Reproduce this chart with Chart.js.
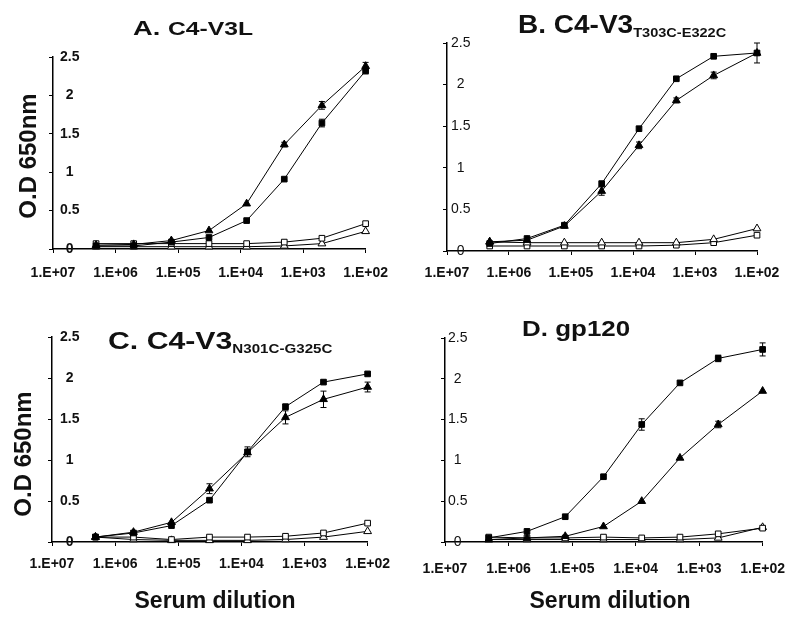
<!DOCTYPE html>
<html>
<head>
<meta charset="utf-8">
<script src="https://cdn.jsdelivr.net/npm/chart.js@4.4.1/dist/chart.umd.min.js"></script>
<style>
  body { margin: 0; background: #fff; width: 800px; height: 624px; position: relative; overflow: hidden;
         font-family: "Liberation Sans", Arial, sans-serif; color: #111; }
  .panel { position: absolute; width: 400px; height: 312px; }
  .title { position: absolute; font-weight: bold; white-space: nowrap; line-height: 1; transform-origin: left top; }
  .title sub { vertical-align: baseline; position: relative; top: 4px; }
  .ytitle { position: absolute; font-weight: bold; font-size: 24px; white-space: nowrap; line-height: 1;
            transform: translate(-50%, -50%) rotate(-90deg); }
  .xtitle { position: absolute; font-weight: bold; font-size: 23px; white-space: nowrap; line-height: 1;
            transform: translate(-50%, -50%); }
</style>
</head>
<body>
<div class="panel" style="left:0;top:0"><canvas id="chartA"></canvas></div>
<div class="panel" style="left:400px;top:0"><canvas id="chartB"></canvas></div>
<div class="panel" style="left:0;top:312px"><canvas id="chartC"></canvas></div>
<div class="panel" style="left:400px;top:312px"><canvas id="chartD"></canvas></div>

<div class="title" style="left:133px;top:17px;font-size:21px;transform:scaleX(1.3)">A. <span style="font-size:19px">C4-V3L</span></div>
<div class="title" style="left:518px;top:12px;font-size:25px;transform:scaleX(1.12)">B. C4-V3<sub style="font-size:13px">T303C-E322C</sub></div>
<div class="title" style="left:108px;top:329px;font-size:24px;transform:scaleX(1.26)">C. C4-V3<sub style="font-size:12px">N301C-G325C</sub></div>
<div class="title" style="left:522px;top:318px;font-size:22px;transform:scaleX(1.18)">D. gp120</div>

<div class="ytitle" style="left:28px;top:156px">O.D 650nm</div>
<div class="ytitle" style="left:23px;top:454px">O.D 650nm</div>
<div class="xtitle" style="left:215px;top:600px">Serum dilution</div>
<div class="xtitle" style="left:610px;top:600px">Serum dilution</div>

<script>
// -------------------------------
// Data ---------------------------
// -------------------------------
const dilutions = [2048000, 512000, 128000, 32000, 8000, 2000, 500, 100];

const xTickValues = [1e7, 1e6, 1e5, 1e4, 1e3, 1e2];
const xTickLabels = ["1.E+07", "1.E+06", "1.E+05", "1.E+04", "1.E+03", "1.E+02"];
const yTickValues = [0, 0.5, 1, 1.5, 2, 2.5];
const yTickLabels = ["0", "0.5", "1", "1.5", "2", "2.5"];

// A. C4-V3L
const aFilledTri = [0.05, 0.06, 0.11, 0.24, 0.59, 1.36, 1.87, 2.38];
const aFilledSq = [0.04, 0.04, 0.09, 0.15, 0.37, 0.91, 1.64, 2.32];
const aOpenSq = [0.07, 0.07, 0.07, 0.07, 0.07, 0.09, 0.14, 0.33];
const aOpenTri = [0.03, 0.03, 0.03, 0.03, 0.03, 0.04, 0.07, 0.23];
const aFilledTriErr = [0, 0, 0, 0, 0, 0.03, 0.05, 0.05];
const aFilledSqErr = [0, 0, 0, 0, 0, 0, 0.05, 0.04];

// B. C4-V3 T303C-E322C
const bFilledSq = [0.09, 0.15, 0.31, 0.81, 1.47, 2.07, 2.34, 2.38];
const bFilledTri = [0.11, 0.13, 0.30, 0.72, 1.27, 1.81, 2.11, 2.38];
const bOpenTri = [0.11, 0.10, 0.10, 0.10, 0.10, 0.10, 0.14, 0.27];
const bOpenSq = [0.06, 0.06, 0.06, 0.06, 0.06, 0.07, 0.10, 0.19];
const bFilledSqErr = [0, 0, 0, 0, 0, 0, 0, 0];
const bFilledTriErr = [0, 0, 0, 0.05, 0.04, 0.03, 0.04, 0.12];

// C. C4-V3 N301C-G325C
const cFilledSq = [0.06, 0.11, 0.20, 0.51, 1.10, 1.65, 1.95, 2.05];
const cFilledTri = [0.06, 0.12, 0.24, 0.65, 1.09, 1.52, 1.74, 1.89];
const cOpenSq = [0.06, 0.06, 0.03, 0.06, 0.06, 0.07, 0.11, 0.23];
const cOpenTri = [0.06, 0.03, 0.02, 0.02, 0.02, 0.03, 0.06, 0.13];
const cFilledSqErr = [0, 0, 0, 0, 0.06, 0.03, 0, 0];
const cFilledTriErr = [0, 0, 0, 0.06, 0, 0.08, 0.10, 0.06];

// D. gp120
const dFilledSq = [0.05, 0.13, 0.31, 0.80, 1.44, 1.95, 2.25, 2.36];
const dFilledTri = [0.03, 0.05, 0.07, 0.19, 0.50, 1.03, 1.44, 1.85];
const dOpenSq = [0.06, 0.05, 0.05, 0.06, 0.05, 0.06, 0.10, 0.17];
const dOpenTri = [0.03, 0.03, 0.03, 0.03, 0.03, 0.03, 0.05, 0.18];
const dFilledSqErr = [0, 0, 0, 0, 0.07, 0, 0.04, 0.08];
const dFilledTriErr = [0, 0, 0, 0, 0, 0, 0.04, 0];

// -------------------------------
// Helpers ------------------------
// -------------------------------
Chart.defaults.font.family = "'Liberation Sans', Arial, sans-serif";

const toPoints = (vals) => dilutions.map((d, i) => ({ x: d, y: vals[i] }));

function series(vals, style, filled, errors) {
  return {
    data: toPoints(vals),
    errors: errors || null,
    borderColor: "#000",
    borderWidth: 1,
    tension: 0,
    clip: false,
    pointStyle: style,
    pointRadius: style === "triangle" ? 4.5 : 4,
    pointBorderColor: "#000",
    pointBorderWidth: 1,
    pointBackgroundColor: filled ? "#000" : "#fff",
  };
}

// draws vertical error bars from the y scale of each chart
const errorBars = {
  id: "errorBars",
  afterDatasetsDraw(chart) {
    const ctx = chart.ctx;
    const yScale = chart.scales.y;
    chart.data.datasets.forEach((ds, i) => {
      if (!ds.errors) return;
      const meta = chart.getDatasetMeta(i);
      meta.data.forEach((pt, j) => {
        const e = ds.errors[j];
        if (!e) return;
        const v = ds.data[j].y;
        const top = yScale.getPixelForValue(v + e);
        const bot = yScale.getPixelForValue(v - e);
        ctx.save();
        ctx.strokeStyle = "#000";
        ctx.lineWidth = 1;
        ctx.beginPath();
        ctx.moveTo(pt.x, top);
        ctx.lineTo(pt.x, bot);
        ctx.moveTo(pt.x - 3, top);
        ctx.lineTo(pt.x + 3, top);
        ctx.moveTo(pt.x - 3, bot);
        ctx.lineTo(pt.x + 3, bot);
        ctx.stroke();
        ctx.restore();
      });
    });
  },
};

function makePanel(id, datasets, p) {
  const ctx = document.getElementById(id).getContext("2d");
  return new Chart(ctx, {
    type: "line",
    data: { datasets: datasets },
    plugins: [errorBars],
    options: {
      responsive: true,
      maintainAspectRatio: false,
      animation: false,
      layout: { padding: p.pad },
      plugins: { legend: { display: false }, tooltip: { enabled: false } },
      scales: {
        x: {
          type: "logarithmic",
          reverse: true,
          min: 100,
          max: 1e7,
          border: { display: true, color: "#000", width: 1.5 },
          grid: { drawOnChartArea: false, drawTicks: true, tickLength: 4, color: "#000" },
          ticks: {
            color: "#111",
            padding: p.xPad,
            maxRotation: 0,
            autoSkip: false,
            font: { size: 14, weight: "bold" },
            callback: (value) => xTickLabels[xTickValues.indexOf(value)],
          },
          afterBuildTicks: (scale) => {
            scale.ticks = xTickValues.map((v) => ({ value: v }));
          },
          afterFit: (scale) => {
            scale.height = 40;
          },
        },
        y: {
          min: 0,
          max: 2.5,
          border: { display: true, color: "#000", width: 1.5 },
          grid: { drawOnChartArea: false, drawTicks: true, tickLength: 4, color: "#000" },
          ticks: {
            mirror: true,
            crossAlign: "center",
            padding: p.yPad,
            color: "#111",
            font: { size: 14, weight: p.yBold ? "bold" : "normal" },
            callback: (value) => yTickLabels[yTickValues.indexOf(value)],
          },
          afterBuildTicks: (scale) => {
            scale.ticks = yTickValues.map((v) => ({ value: v }));
          },
          afterFit: (scale) => {
            scale.width = 4;
          },
        },
      },
    },
  });
}

// -------------------------------
// Panels -------------------------
// -------------------------------
makePanel("chartA", [
  series(aFilledTri, "triangle", true, aFilledTriErr),
  series(aFilledSq, "rect", true, aFilledSqErr),
  series(aOpenSq, "rect", false),
  series(aOpenTri, "triangle", false),
], { pad: { left: 49, top: 57, right: 34, bottom: 23 }, xPad: 12, yPad: 7, yBold: true });

makePanel("chartB", [
  series(bFilledSq, "rect", true, bFilledSqErr),
  series(bFilledTri, "triangle", true, bFilledTriErr),
  series(bOpenTri, "triangle", false),
  series(bOpenSq, "rect", false),
], { pad: { left: 43, top: 43, right: 43, bottom: 21 }, xPad: 10, yPad: 4, yBold: false });

makePanel("chartC", [
  series(cFilledSq, "rect", true, cFilledSqErr),
  series(cFilledTri, "triangle", true, cFilledTriErr),
  series(cOpenSq, "rect", false),
  series(cOpenTri, "triangle", false),
], { pad: { left: 48, top: 25, right: 30, bottom: 42 }, xPad: 10, yPad: 8, yBold: true });

makePanel("chartD", [
  series(dFilledSq, "rect", true, dFilledSqErr),
  series(dFilledTri, "triangle", true, dFilledTriErr),
  series(dOpenSq, "rect", false),
  series(dOpenTri, "triangle", false),
], { pad: { left: 41, top: 26, right: 37, bottom: 42 }, xPad: 15, yPad: 3, yBold: false });
</script>
</body>
</html>
